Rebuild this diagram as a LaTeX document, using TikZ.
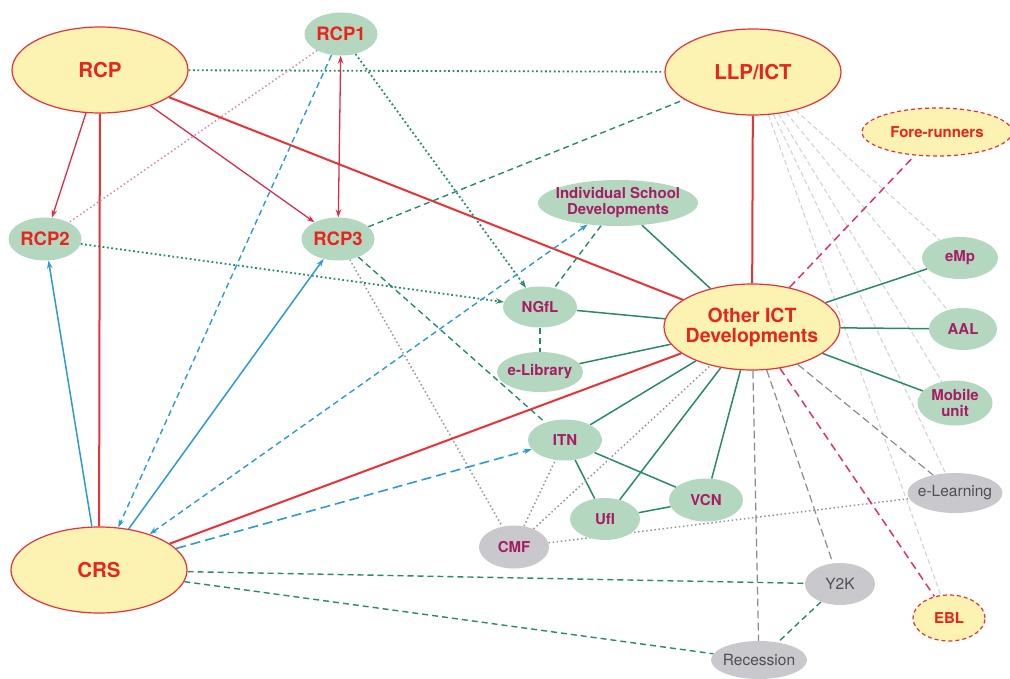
\documentclass[tikz,border=0pt]{standalone}
\usepackage{fontspec}
\setmainfont{TeX Gyre Heros}
\usetikzlibrary{shapes.geometric,arrows.meta}
\pgfdeclarelayer{bg}
\pgfsetlayers{bg,main}

\definecolor{yelfill}{RGB}{252,243,178}
\definecolor{grnfill}{RGB}{180,215,192}
\definecolor{gryfill}{RGB}{201,201,205}
\definecolor{redline}{RGB}{232,50,55}
\definecolor{crimson}{RGB}{220,45,75}
\definecolor{redtext}{RGB}{230,38,30}
\definecolor{magtext}{RGB}{165,30,100}
\definecolor{grytext}{RGB}{80,80,80}
\definecolor{grnline}{RGB}{40,138,104}
\definecolor{bluline}{RGB}{44,154,212}
\definecolor{pinkdot}{RGB}{215,140,165}
\definecolor{grydot}{RGB}{150,150,150}
\definecolor{grydash}{RGB}{140,140,140}
\definecolor{faintgry}{RGB}{212,212,212}
\definecolor{rosedash}{RGB}{224,50,105}

\begin{document}
\begin{tikzpicture}[x=1pt,y=-1pt,
  >={Stealth[length=8pt,width=5.5pt]},
  bigyel/.style={ellipse, draw=redline, line width=1.2pt, fill=yelfill, text=redtext,
    font=\bfseries\fontsize{20.5}{22}\selectfont, minimum width=176pt, minimum height=86pt,
    inner sep=0pt, align=center},
  rcpg/.style={ellipse, fill=grnfill, text=redtext, font=\bfseries\fontsize{18.5}{20}\selectfont,
    minimum width=73pt, minimum height=43pt, inner sep=0pt},
  grn/.style={ellipse, fill=grnfill, text=magtext, font=\bfseries\fontsize{15}{16}\selectfont,
    minimum width=74pt, minimum height=41pt, inner sep=0pt, align=center},
  gry/.style={ellipse, fill=gryfill, text=grytext, font=\fontsize{15.5}{17}\selectfont,
    minimum width=70pt, minimum height=42pt, inner sep=0pt},
  dyel/.style={ellipse, draw=redline, line width=1.2pt, dash pattern=on 4pt off 3pt,
    fill=yelfill, text=redtext, font=\bfseries\fontsize{15}{16}\selectfont, inner sep=0pt},
  redthick/.style={draw=redline, line width=2pt},
  redarrow/.style={draw=crimson, line width=1.3pt},
  grnlink/.style={draw=grnline, line width=1.5pt},
  grndash/.style={draw=grnline, line width=1.4pt, dash pattern=on 6pt off 4pt},
  grndot/.style={draw=grnline, line width=1.8pt, dash pattern=on 1.8pt off 2.6pt},
  blulink/.style={draw=bluline, line width=1.5pt},
  bludash/.style={draw=bluline, line width=1.4pt, dash pattern=on 6pt off 4pt},
  blulong/.style={draw=bluline, line width=1.6pt, dash pattern=on 10pt off 5pt},
  grydotted/.style={draw=grydot, line width=1.5pt, dash pattern=on 1.5pt off 2.6pt},
  grydashed/.style={draw=grydash, line width=1.2pt, dash pattern=on 8pt off 4pt},
  faint/.style={draw=faintgry, line width=1.1pt, dash pattern=on 5pt off 3pt},
  rosedashed/.style={draw=rosedash, line width=1.5pt, dash pattern=on 8pt off 5pt},
  pinkdotted/.style={draw=pinkdot, line width=1.5pt, dash pattern=on 1.5pt off 2.6pt}
]
\useasboundingbox (0,0) rectangle (1010,678);

% main programmes
\node[bigyel] (rcp)  at (100,70)  {RCP};
\node[bigyel] (llp)  at (753,72)  {LLP/ICT};
\node[bigyel] (crs)  at (99,570)  {CRS};
\node[bigyel, inner xsep=-6pt, font=\bfseries\fontsize{19.5}{20}\selectfont] (oict) at (752,327) {Other ICT\\Developments};

% RCP phases
\node[rcpg] (rcp1) at (341,34)  {RCP1};
\node[rcpg] (rcp2) at (45,239)  {RCP2};
\node[rcpg] (rcp3) at (338,239) {RCP3};

% related developments
\node[grn, minimum width=160pt, minimum height=46pt, inner xsep=-8pt] (isd) at (618,203) {Individual School\\Developments};
\node[grn] (ngfl) at (540,307) {NGfL};
\node[grn, minimum width=86pt, minimum height=40pt, inner xsep=-3pt] (elib) at (540,372) {e-Library};
\node[grn] (itn)  at (565,440) {ITN};
\node[grn, minimum width=70pt, minimum height=42pt] (ufi) at (605,519) {UfI};
\node[grn, minimum height=43pt] (vcn) at (706,500) {VCN};
\node[grn, minimum width=76pt, minimum height=42pt] (emp) at (960,258) {eMp};
\node[grn, minimum width=68pt, minimum height=42pt] (aal) at (963,329) {AAL};
\node[grn, minimum width=75pt, minimum height=45pt] (mob) at (955,403) {Mobile\\unit};

% external factors
\node[gry, text=magtext, font=\bfseries\fontsize{15}{16}\selectfont, minimum height=43pt] (cmf) at (514,547) {CMF};
\node[gry, minimum width=95pt, minimum height=40pt, inner xsep=-4pt] (elearn) at (955,493) {e-Learning};
\node[gry] (y2k) at (840,584) {Y2K};
\node[gry, minimum width=96pt, minimum height=38pt, inner xsep=-3pt] (rec) at (759,660) {Recession};
\node[dyel, minimum width=150pt, minimum height=48pt] (fore) at (937,132) {Fore-runners};
\node[dyel, minimum width=72pt, minimum height=46pt] (ebl) at (949,618) {EBL};

\begin{pgfonlayer}{bg}
\fill[white] (0,0) rectangle (1010,678);

% faint links fanning out of LLP/ICT
\draw[faint] (llp) -- (emp);
\draw[faint] (llp) -- (aal);
\draw[faint] (llp) -- (mob);
\draw[faint] (llp) -- (elearn);
\draw[faint] (llp) -- (ebl);

% RCP and its phases
\draw[redarrow, ->] (rcp) -- (rcp2);
\draw[redarrow, ->] (rcp) -- (rcp3);
\draw[redthick] (rcp) -- (crs);
\draw[redthick] (rcp) -- (oict);
\draw[grndot] (rcp) -- (llp);
\draw[redarrow, <->] (rcp1) -- (rcp3);
\draw[pinkdotted] (rcp1) -- (rcp2);
\draw[bludash, ->] (rcp1) -- (crs);
\draw[grndot, ->] (rcp1) -- (ngfl);
\draw[grndot, ->] (rcp2) -- (ngfl);
\draw[grndash] (rcp3) -- (llp);
\draw[grndash] (rcp3) -- (itn);
\draw[grydotted] (rcp3) -- (cmf);

% CRS links
\draw[blulink, ->] (crs) -- (rcp2);
\draw[blulink, ->] (crs) -- (rcp3);
\draw[bludash, <->] (crs) -- (isd);
\draw[redthick] (crs) -- (oict);
\draw[blulong, ->] (crs) -- (itn);
\draw[grndash] (crs) -- (y2k);
\draw[grndash] (crs) -- (rec);

% LLP/ICT
\draw[redthick] (llp) -- (oict);

% around Other ICT Developments
\draw[grndash] (isd) -- (ngfl);
\draw[grnlink] (isd) -- (oict);
\draw[grnlink] (ngfl) -- (oict);
\draw[grndash] (ngfl) -- (elib);
\draw[grnlink] (elib) -- (oict);
\draw[grnlink] (itn) -- (oict);
\draw[grnlink] (itn) -- (ufi);
\draw[grnlink] (itn) -- (vcn);
\draw[grnlink] (ufi) -- (oict);
\draw[grnlink] (ufi) -- (vcn);
\draw[grnlink] (vcn) -- (oict);
\draw[grnlink] (oict) -- (emp);
\draw[grnlink] (oict) -- (aal);
\draw[grnlink] (oict) -- (mob);
\draw[grydotted] (cmf) -- (itn);
\draw[grydotted] (cmf) -- (oict);
\draw[grydotted] (cmf) -- (elearn);
\draw[rosedashed] (oict) -- (fore);
\draw[rosedashed] (oict) -- (ebl);
\draw[grydashed] (oict) -- (elearn);
\draw[grydashed] (oict) -- (y2k);
\draw[grydashed] (oict) -- (rec);
\draw[grndash] (y2k) -- (rec);
\end{pgfonlayer}
\end{tikzpicture}
\end{document}
